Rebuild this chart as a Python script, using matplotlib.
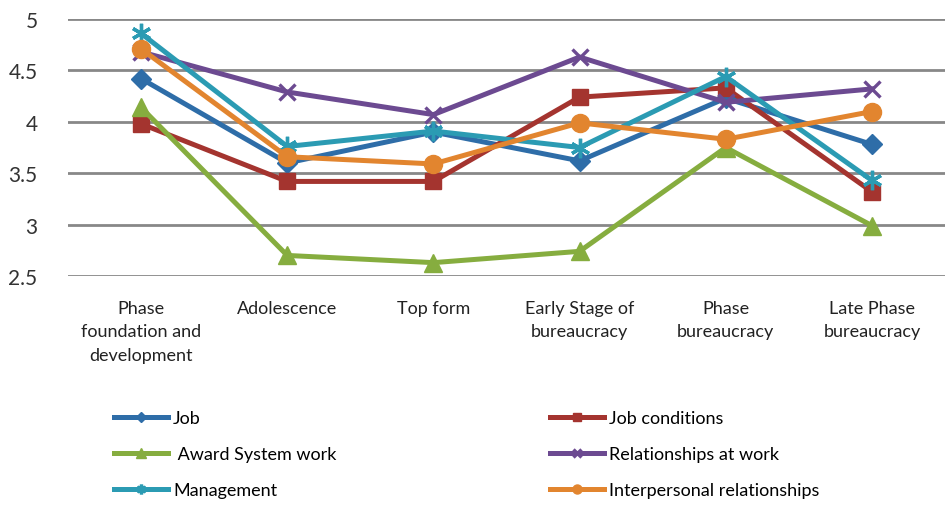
import matplotlib.pyplot as plt
import numpy as np

plt.rcParams['font.family'] = ['Lato', 'DejaVu Sans']

categories = ['Phase\nfoundation and\ndevelopment', 'Adolescence', 'Top form',
              'Early Stage of\nbureaucracy', 'Phase\nbureaucracy', 'Late Phase\nbureaucracy']

job = [4.42, 3.60, 3.90, 3.62, 4.23, 3.78]
job_conditions = [3.98, 3.42, 3.42, 4.24, 4.33, 3.32]
award_system = [4.14, 2.70, 2.63, 2.74, 3.75, 2.99]
relationships_work = [4.68, 4.29, 4.07, 4.63, 4.19, 4.32]
management = [4.86, 3.76, 3.91, 3.75, 4.44, 3.43]
interpersonal = [4.71, 3.66, 3.59, 3.99, 3.83, 4.10]

yticks = [2.5, 3, 3.5, 4, 4.5, 5]
ytick_labels = ['2.5', '3', '3.5', '4', '4.5', '5']

series = [
    ('Job', job, '#2E6DA8', 'D', 10),
    ('Job conditions', job_conditions, '#A4342F', 's', 12),
    (' Award System work', award_system, '#86AD3F', '^', 13),
    ('Relationships at work', relationships_work, '#6C4A91', 'x', 12),
    ('Management', management, '#2B9BB3', (6, 2, 0), 14),
    ('Interpersonal relationships', interpersonal, '#E2852F', 'o', 13),
]

fig = plt.figure(figsize=(9.47, 5.06), dpi=100)
ax = fig.add_axes([68 / 947, 1 - 277 / 506, 877 / 947, 257 / 506])

x = np.arange(len(categories))
lines = {}
for name, vals, col, mk, ms in series:
    l, = ax.plot(x, vals, color=col, lw=3.6, marker=mk, markersize=ms,
                 markeredgewidth=2.4 if mk in ('x', (6, 2, 0)) else 1,
                 markerfacecolor=col, markeredgecolor=col, label=name,
                 solid_joinstyle='round')
    lines[name] = l

ax.set_xlim(-0.5, 5.5)
ax.set_ylim(2.5, 5)
ax.set_yticks(yticks)
ax.set_yticklabels(ytick_labels, fontsize=15, color='#333333')
ax.set_xticks(x)
ax.set_xticklabels(categories, fontsize=13, color='#222222', linespacing=1.6, va='top')
ax.tick_params(length=0)
ax.tick_params(axis='x', pad=17)
ax.tick_params(axis='y', pad=22)
ax.grid(axis='y', color='#888888', lw=2)
ax.set_axisbelow(True)
for s in ax.spines.values():
    s.set_visible(False)
for l in lines.values():
    l.set_clip_on(False)

order = ['Job', ' Award System work', 'Management',
         'Job conditions', 'Relationships at work', 'Interpersonal relationships']
fig.legend([lines[n] for n in order], order, ncol=2, frameon=False,
           loc='upper left', bbox_to_anchor=(98 / 947, 1 - 395 / 506),
           fontsize=13, handlelength=3.0, handletextpad=0.25,
           columnspacing=11.85, labelspacing=1.1, markerscale=0.5)

fig.savefig('out.png', dpi=100)
